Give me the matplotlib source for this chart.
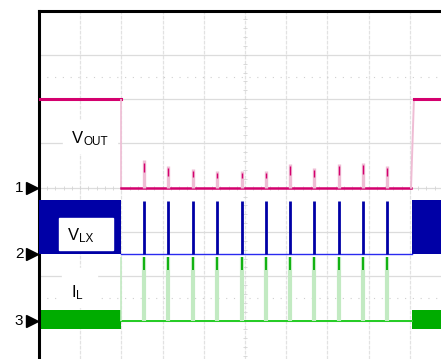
import numpy as np
import matplotlib.pyplot as plt
from matplotlib.patches import Rectangle
from matplotlib import transforms

plt.rcParams['font.family'] = ['Liberation Sans', 'DejaVu Sans']

# scope units: time and amplitude both in screen divisions
ground = [4.0, 2.5, 1.0]          # channel 1, 2, 3 reference levels
t_stop = 2.0                       # switching stops / VOUT falls
t_restart = 9.05                   # switching restarts
vout_rise = [9.03, 9.10]
vout_high = 2.0

pulse_t = [2.55, 3.14, 3.73, 4.32, 4.92, 5.50, 6.09, 6.68, 7.27, 7.86, 8.45]
vout_spike = [0.63, 0.50, 0.43, 0.38, 0.38, 0.38, 0.54, 0.45, 0.54, 0.56, 0.50]
vlx_pulse = [1.19, 1.19, 1.19, 1.20, 1.20, 1.20, 1.20, 1.20, 1.20, 1.20, 1.20]
il_pulse = [1.44, 1.44, 1.44, 1.44, 1.44, 1.44, 1.44, 1.44, 1.44, 1.44, 1.44]

vlx_band = [0.0, 1.22]
il_band = [-0.20, 0.23]

MAG = '#d4006e'
MAG_LT = '#efbcd4'
BLUE = '#0000a6'
BLUE_LINE = '#2a2af0'
GREEN = '#00ac00'
GREEN_LINE = '#22cc22'
GREEN_LT = '#c2eac2'

fig = plt.figure(figsize=(4.41, 3.59), dpi=100)
ax = fig.add_axes([39 / 441, 0, 402 / 441, 348.5 / 359])
ax.set_xlim(0, 402 / 41.2)
ax.set_ylim(8 - 348.5 / 44.3, 8)
ax.set_xticks([])
ax.set_yticks([])
for s in ['right', 'bottom']:
    ax.spines[s].set_visible(False)
for s in ['top', 'left']:
    ax.spines[s].set_linewidth(2.2)
    ax.spines[s].set_color('black')

# graticule
for gx in range(1, 10):
    ax.axvline(gx, color='#e2e2e2', lw=0.9, ls=(0, (3, 1)), zorder=0)
for gy in range(1, 8):
    ax.axhline(gy, color='#dcdcdc', lw=0.9, zorder=0)
for gy in [6.5, 1.5]:
    ax.axhline(gy, color='#cfcfcf', lw=0.8, ls=(0, (1, 6)), zorder=0)
ax.plot(np.full(40, 5.0), np.arange(0, 8, 0.2), ls='none', marker='_',
        ms=3, mew=0.6, color='#d4d4d4', zorder=0)
ax.plot(np.arange(0, 10, 0.2), np.full(50, 4.0), ls='none', marker='|',
        ms=3, mew=0.6, color='#d4d4d4', zorder=0)

# label backgrounds
ax.add_patch(Rectangle((0.58, 4.78), 1.31, 0.74, color='white', zorder=1))
ax.add_patch(Rectangle((0.56, 1.31), 0.85, 0.88, color='white', zorder=1))

g1, g2, g3 = ground
xend = 10.5

# channel 3: inductor current
ax.fill_between([0, t_stop], g3 + il_band[0], g3 + il_band[1], color=GREEN, lw=0, zorder=2)
ax.fill_between([t_restart, xend], g3 + il_band[0], g3 + il_band[1], color=GREEN, lw=0, zorder=2)
ax.plot([t_stop, t_restart], [g3, g3], color=GREEN_LINE, lw=1.4, zorder=2)
ax.vlines([t_stop], g3, g3 + il_pulse[0], color=GREEN_LT, lw=1.2, zorder=2)
for t, h in zip(pulse_t, il_pulse):
    ax.vlines(t, g3, g3 + h, color=GREEN_LT, lw=3.0, zorder=2)
    ax.vlines(t, g3 + h - 0.3, g3 + h, color=GREEN, lw=1.3, zorder=3)

# channel 2: switch node
ax.fill_between([0, t_stop], g2 + vlx_band[0], g2 + vlx_band[1], color=BLUE, lw=0, zorder=4)
ax.fill_between([t_restart, xend], g2 + vlx_band[0], g2 + vlx_band[1], color=BLUE, lw=0, zorder=4)
ax.plot([t_stop, t_restart], [g2, g2], color=BLUE_LINE, lw=1.0, zorder=4)
for t, h in zip(pulse_t, vlx_pulse):
    ax.vlines(t, g2, g2 + h, color=BLUE, lw=2.0, zorder=4)
ax.add_patch(Rectangle((0.49, 2.59), 1.31, 0.73, color='white', zorder=5))

# channel 1: output voltage
ax.plot([0, t_stop], [g1 + vout_high] * 2, color=MAG, lw=2.2, zorder=6)
ax.vlines([t_stop], g1, g1 + vout_high, color=MAG_LT, lw=1.2, zorder=6)
ax.plot([t_stop, vout_rise[0]], [g1, g1], color=MAG, lw=1.8, zorder=6)
ax.plot(vout_rise, [g1, g1 + vout_high], color=MAG_LT, lw=1.4, zorder=6)
ax.plot([vout_rise[1], xend], [g1 + vout_high] * 2, color=MAG, lw=2.2, zorder=6)
for t, h in zip(pulse_t, vout_spike):
    ax.vlines(t, g1, g1 + h, color=MAG_LT, lw=2.4, zorder=6)
    ax.vlines(t, g1 + h * 0.55, g1 + h * 0.9, color=MAG, lw=1.0, zorder=7)


# signal names with manual subscripts
def sig_label(x, y, main, sub):
    ax.text(x, y, main, ha='right', va='baseline', fontsize=12, zorder=8)
    tr = transforms.offset_copy(ax.transData, fig=fig, x=0, y=-1.5, units='points')
    ax.text(x, y, sub, ha='left', va='baseline', fontsize=8.5, transform=tr, zorder=8)


sig_label(1.07, 5.0, 'V', 'OUT')
sig_label(0.97, 2.82, 'V', 'LX')
sig_label(0.90, 1.53, 'I', 'L')

# channel markers
for i, g in enumerate(ground):
    ax.plot(-0.17, g, marker='>', ms=8, color='black', clip_on=False, zorder=9)
    ax.text(-0.38, g, str(i + 1), ha='right', va='center', fontsize=11,
            clip_on=False)

fig.savefig('out.png', dpi=100)
